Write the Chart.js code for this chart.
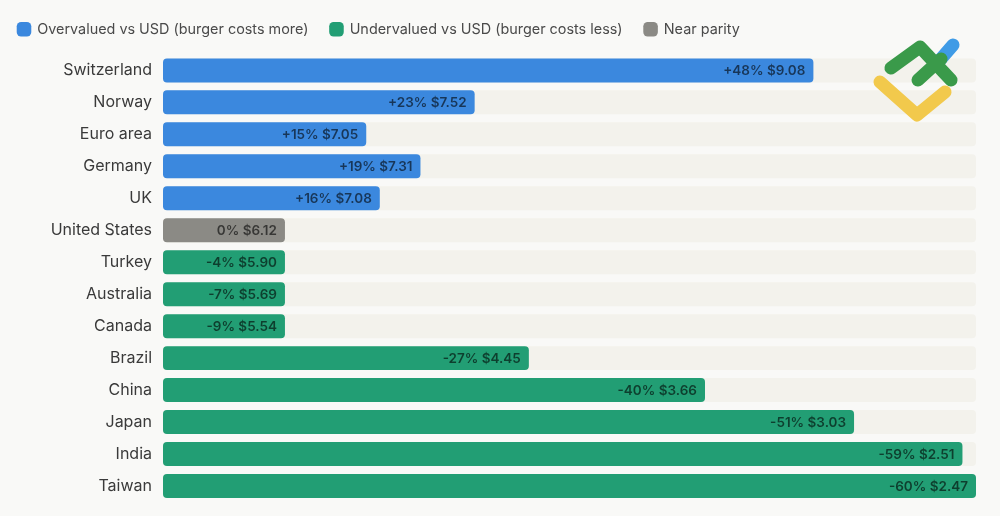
<!DOCTYPE html>
<html>
<head>
<meta charset="utf-8">
<script src="https://cdn.jsdelivr.net/npm/chart.js@4.4.1/dist/chart.umd.min.js"></script>
<style>
  html, body { margin: 0; padding: 0; background: #f9f9f7; }
  .wrap { position: relative; width: 1000px; height: 516px; }
</style>
</head>
<body>
<div class="wrap"><canvas id="bigMac"></canvas></div>
<script>
const countries = ["Switzerland", "Norway", "Euro area", "Germany", "UK", "United States",
  "Turkey", "Australia", "Canada", "Brazil", "China", "Japan", "India", "Taiwan"];
const premium = [48, 23, 15, 19, 16, 0, -4, -7, -9, -27, -40, -51, -59, -60];
const burgerPrice = [9.08, 7.52, 7.05, 7.31, 7.08, 6.12, 5.90, 5.69, 5.54, 4.45, 3.66, 3.03, 2.51, 2.47];
const legendNames = ["Overvalued vs USD (burger costs more)", "Undervalued vs USD (burger costs less)", "Near parity"];
const AXIS_MAX = 60;
const MIN_BAR = 9; // short bars are kept wide enough to hold their label

const blue = "#3b88de",
  green = "#229e74",
  grey = "#8b8a85",
  track = "#f3f2ec",
  ink = "#3a3a3a";

const barLen = (i) => Math.max(Math.abs(premium[i]), MIN_BAR);
const pick = (test) => countries.map((c, i) => (test(premium[i]) ? barLen(i) : null));

const barOpts = {
  grouped: false,
  barPercentage: 0.75,
  categoryPercentage: 1,
  borderRadius: 4,
  borderSkipped: false,
};

const fmtLabel = (i) => {
  const p = premium[i];
  const sign = p > 0 ? "+" : "";
  return `${sign}${p}% $${burgerPrice[i].toFixed(2)}`;
};

// extra room under the legend
const legendGap = {
  id: "legendGap",
  beforeInit(chart) {
    const fit = chart.legend.fit;
    chart.legend.fit = function () {
      fit.call(this);
      this.height += 8;
    };
  },
};

// value text inside each bar, right aligned
const barText = {
  id: "barText",
  afterDatasetsDraw(chart) {
    const ctx = chart.ctx;
    ctx.save();
    ctx.font = "600 13.5px Inter, 'Open Sans', sans-serif";
    ctx.fillStyle = "rgba(0,0,0,0.6)";
    ctx.textAlign = "right";
    ctx.textBaseline = "middle";
    [0, 1, 2].forEach((d) => {
      const meta = chart.getDatasetMeta(d);
      meta.data.forEach((el, i) => {
        if (chart.data.datasets[d].data[i] == null) return;
        ctx.fillText(fmtLabel(i), el.x - 8, el.y + 1);
      });
    });
    ctx.restore();
  },
};

// brand mark, top right
const logo = {
  id: "logo",
  afterDraw(chart) {
    const ctx = chart.ctx;
    ctx.save();
    ctx.lineCap = "round";
    ctx.lineJoin = "round";
    ctx.lineWidth = 13;
    const stroke = (col, pts) => {
      ctx.strokeStyle = col;
      ctx.beginPath();
      pts.forEach(([x, y], k) => (k ? ctx.lineTo(x, y) : ctx.moveTo(x, y)));
      ctx.stroke();
    };
    stroke("#f2c94c", [[880, 82], [917, 115], [945, 92]]);
    stroke("#3f9be6", [[940, 60], [953, 45]]);
    stroke("#3a9a4a", [[891, 68], [920, 47], [951, 80]]);
    stroke("#3a9a4a", [[918, 80], [941, 59]]);
    ctx.restore();
  },
};

new Chart(document.getElementById("bigMac"), {
  type: "bar",
  data: {
    labels: countries,
    datasets: [
      { label: legendNames[0], data: pick((p) => p > 0), backgroundColor: blue, order: 1, ...barOpts },
      { label: legendNames[1], data: pick((p) => p < 0), backgroundColor: green, order: 1, ...barOpts },
      { label: legendNames[2], data: pick((p) => p === 0), backgroundColor: grey, order: 1, ...barOpts },
      { label: "track", data: countries.map(() => AXIS_MAX), backgroundColor: track, order: 5, ...barOpts },
    ],
  },
  options: {
    indexAxis: "y",
    responsive: true,
    maintainAspectRatio: false,
    animation: false,
    layout: { padding: { left: -4, right: 24, top: 0, bottom: 14 } },
    plugins: {
      legend: {
        display: true,
        position: "top",
        align: "start",
        labels: {
          filter: (item) => item.datasetIndex < 3,
          usePointStyle: true,
          pointStyle: "rectRounded",
          boxWidth: 12,
          boxHeight: 12,
          padding: 22,
          color: "#4a4a4a",
          font: { family: "Inter, 'Open Sans', sans-serif", size: 14.4 },
        },
      },
      tooltip: { enabled: false },
    },
    scales: {
      x: { display: false, min: 0, max: AXIS_MAX },
      y: {
        grid: { display: false },
        border: { display: false },
        ticks: {
          color: ink,
          padding: 3,
          font: { family: "Inter, 'Open Sans', sans-serif", size: 16 },
        },
        afterFit: (s) => { s.width = 167; },
      },
    },
  },
  plugins: [legendGap, barText, logo],
});
</script>
</body>
</html>
